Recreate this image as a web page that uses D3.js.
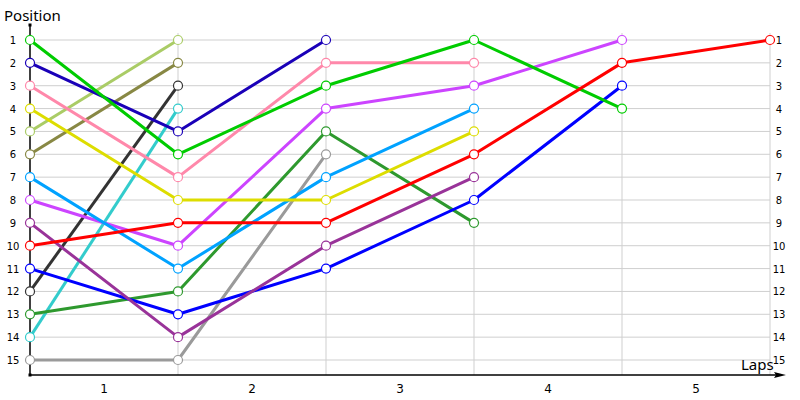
<!DOCTYPE html>
<head>
<meta charset="utf-8">
<style>
body { margin: 0; background: #fff; }
text { font-family: Tahoma, "DejaVu Sans", sans-serif; fill: #000; }
.title { font-family: "Noto Sans", "DejaVu Sans", sans-serif; }
.grid line { stroke: #cfcfcf; stroke-width: 1px; }
.car path { fill: none; stroke-width: 3px; stroke-linejoin: round; }
.car circle { fill: #fff; stroke-width: 1.2px; }
</style>
<title>Lap chart</title>
</head>
<body>
<script src="https://cdn.jsdelivr.net/npm/d3@7"></script>
<script>

var width = 800,
    height = 400;

// lap columns (0 = grid)
var laps = [0, 1, 2, 3, 4, 5];
var lapLabels = ["1", "2", "3", "4", "5"];
var positions = d3.range(1, 16);

// positions per car, one entry per lap until the car drops out
var greenCar     = [1, 6, 3, 1, 4];
var navyCar      = [2, 5, 1];
var pinkCar      = [3, 7, 2, 2];
var yellowCar    = [4, 8, 8, 5];
var limeCar      = [5, 1];
var oliveCar     = [6, 2];
var skyCar       = [7, 11, 7, 4];
var violetCar    = [8, 10, 4, 3, 1];
var purpleCar    = [9, 14, 10, 7];
var redCar       = [10, 9, 9, 6, 2, 1];
var blueCar      = [11, 13, 11, 8, 3];
var blackCar     = [12, 3];
var forestCar    = [13, 12, 5, 9];
var cyanCar      = [14, 4];
var greyCar      = [15, 15, 6];

var cars = [
  { pos: greyCar,   color: "#9a9a9a" },
  { pos: cyanCar,   color: "#33cccc" },
  { pos: forestCar, color: "#2e992e" },
  { pos: blackCar,  color: "#333333" },
  { pos: blueCar,   color: "#0000ff" },
  { pos: purpleCar, color: "#993399" },
  { pos: violetCar, color: "#cc44ff" },
  { pos: skyCar,    color: "#00a2ff" },
  { pos: oliveCar,  color: "#888844" },
  { pos: limeCar,   color: "#aacc66" },
  { pos: yellowCar, color: "#dddd00" },
  { pos: pinkCar,   color: "#ff88aa" },
  { pos: navyCar,   color: "#1a00b8" },
  { pos: greenCar,  color: "#00cc00" },
  { pos: redCar,    color: "#ff0000" }
];

var x = d3.scaleLinear().domain([0, 5]).range([30, 770]);
var y = d3.scaleLinear().domain([1, 15]).range([40, 360]);
var baseY = 375;

var svg = d3.select("body").append("svg")
    .attr("width", width)
    .attr("height", height);

// grid
var grid = svg.append("g").attr("class", "grid");
grid.selectAll(".h")
    .data(positions)
  .enter().append("line")
    .attr("x1", x(0)).attr("x2", x(5))
    .attr("y1", function(d) { return y(d); })
    .attr("y2", function(d) { return y(d); });
grid.selectAll(".v")
    .data(laps.slice(1))
  .enter().append("line")
    .attr("x1", function(d) { return x(d); })
    .attr("x2", function(d) { return x(d); })
    .attr("y1", 33).attr("y2", baseY);

// position labels, left and right
svg.append("g").selectAll("text")
    .data(positions)
  .enter().append("text")
    .attr("x", 13)
    .attr("y", function(d) { return y(d) + 4; })
    .attr("text-anchor", "middle")
    .style("font-size", "10px")
    .text(function(d) { return d; });
svg.append("g").selectAll("text")
    .data(positions)
  .enter().append("text")
    .attr("x", 779)
    .attr("y", function(d) { return y(d) + 4; })
    .attr("text-anchor", "middle")
    .style("font-size", "10px")
    .text(function(d) { return d; });

// lap labels between the columns
svg.append("g").selectAll("text")
    .data(lapLabels)
  .enter().append("text")
    .attr("x", function(d, i) { return (x(i) + x(i + 1)) / 2; })
    .attr("y", 393)
    .attr("text-anchor", "middle")
    .style("font-size", "12px")
    .text(function(d) { return d; });

// axes
svg.append("line")
    .attr("x1", 30).attr("x2", 30)
    .attr("y1", 25).attr("y2", baseY)
    .attr("stroke", "#000").attr("stroke-width", 1.5);
svg.append("rect").attr("x", 28.5).attr("y", 23.5).attr("width", 3).attr("height", 3);
svg.append("rect").attr("x", 28.5).attr("y", baseY - 1.5).attr("width", 3).attr("height", 3);
svg.append("line")
    .attr("x1", 30).attr("x2", 776)
    .attr("y1", baseY).attr("y2", baseY)
    .attr("stroke", "#000").attr("stroke-width", 1.5);
svg.append("path")
    .attr("d", "M786," + baseY + "L774," + (baseY - 3) + "L776," + baseY + "L774," + (baseY + 3) + "Z")
    .attr("fill", "#000");

svg.append("text")
    .attr("class", "title")
    .attr("x", 4).attr("y", 21)
    .style("font-size", "15px")
    .text("Position");
svg.append("text")
    .attr("class", "title")
    .attr("x", 741).attr("y", 370)
    .style("font-size", "15px")
    .text("Laps");

// cars
var line = d3.line()
    .x(function(d, i) { return x(i); })
    .y(function(d) { return y(d); });

var g = svg.selectAll(".car")
    .data(cars)
  .enter().append("g")
    .attr("class", "car");

g.append("path")
    .attr("d", function(d) { return line(d.pos); })
    .attr("stroke", function(d) { return d.color; });

g.selectAll("circle")
    .data(function(d) { return d.pos.map(function(p, i) { return { lap: i, pos: p, color: d.color }; }); })
  .enter().append("circle")
    .attr("cx", function(d) { return x(d.lap); })
    .attr("cy", function(d) { return y(d.pos); })
    .attr("r", 4.5)
    .attr("stroke", function(d) { return d.color; });

</script>
</body>
